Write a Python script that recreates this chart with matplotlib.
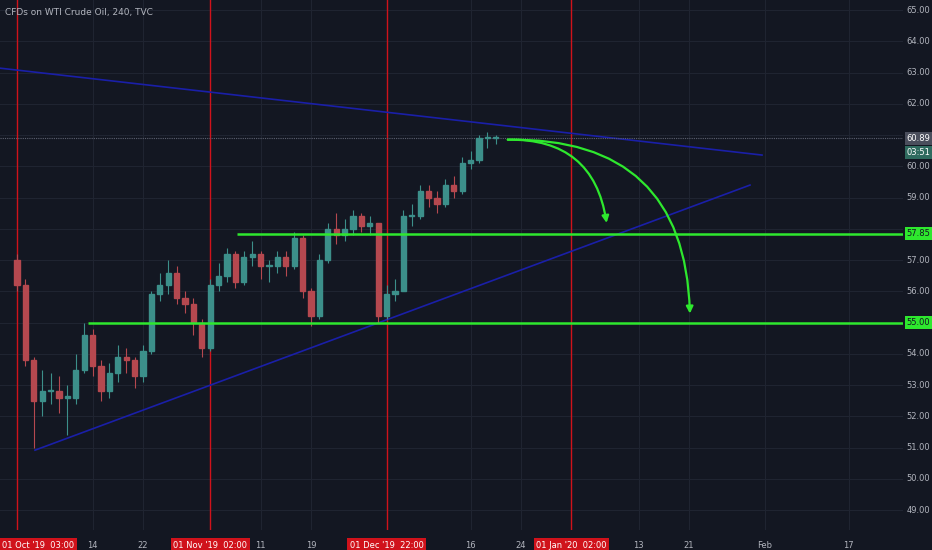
import matplotlib
matplotlib.use("Agg")
import matplotlib.pyplot as plt
from matplotlib.patches import FancyArrowPatch, Rectangle

# Daily candles, 1 Oct 2019 .. 19 Dec 2019 (trading days)
closes = [56.2, 53.8, 52.5, 52.8, 52.8, 52.6, 52.6, 53.5, 54.6, 53.6, 52.8, 53.4, 53.9, 53.8,
          53.3, 54.1, 55.9, 56.2, 56.6, 55.8, 55.6, 55.0, 54.2,
          56.2, 56.5, 57.2, 56.3, 57.1, 57.2, 56.8, 56.8, 57.1, 56.8, 57.7, 56.0, 55.2, 57.0,
          58.0, 57.8, 58.0, 58.4, 58.1, 58.2, 55.2,
          55.9, 56.0, 58.4, 58.4, 59.2, 59.0, 58.8, 59.4, 59.2, 60.1, 60.2, 60.9, 60.9, 60.9]
opens = [57.0] + closes[:-1]
highs = [57.2, 56.4, 53.9, 53.5, 53.4, 53.3, 53.0, 54.0, 55.0, 54.8, 53.8, 53.7, 54.3, 54.2,
         53.9, 54.3, 56.0, 56.6, 57.0, 56.8, 56.0, 55.8, 55.1,
         56.4, 56.9, 57.4, 57.3, 57.3, 57.6, 57.3, 57.0, 57.3, 57.3, 57.9, 57.8, 56.1, 57.2,
         58.2, 58.5, 58.3, 58.6, 58.5, 58.4, 58.2,
         56.2, 56.4, 58.6, 58.8, 59.4, 59.4, 59.2, 59.6, 59.7, 60.3, 60.5, 61.0, 61.1, 61.0]
lows = [56.0, 53.6, 51.0, 52.0, 52.4, 52.1, 51.4, 52.4, 53.4, 53.3, 52.5, 52.6, 53.1, 53.4,
        52.9, 53.1, 54.0, 55.7, 55.9, 55.6, 55.3, 54.6, 53.9,
        54.1, 56.0, 56.3, 56.1, 56.2, 56.8, 56.4, 56.3, 56.6, 56.5, 56.7, 55.8, 54.9, 55.1,
        56.9, 57.5, 57.6, 57.8, 57.9, 57.8, 55.0,
        55.1, 55.7, 56.0, 58.1, 58.3, 58.7, 58.5, 58.7, 59.0, 59.1, 59.9, 60.1, 60.6, 60.7]

tick_idx = [0, 9, 15, 23, 29, 35, 44, 54, 60, 66, 74, 80, 89, 99]
tick_labels = ["01 Oct '19  03:00", "14", "22", "01 Nov '19  02:00", "11", "19",
               "01 Dec '19  22:00", "16", "24", "01 Jan '20  02:00", "13", "21", "Feb", "17"]
red_idx = [0, 23, 44, 66]
price_ticks = [49 + i for i in range(17)]

bg = "#131722"
grid = "#1f2431"
up, down = "#3c8f8a", "#b5484f"
red = "#d0121b"

fig = plt.figure(figsize=(9.32, 5.5), dpi=100, facecolor=bg)
ax = fig.add_axes([0, 0.036, 903 / 932, 0.964])
ax.set_facecolor(bg)
x0 = -17 / 8.4
ax.set_xlim(x0, x0 + 903 / 8.4)
ax.set_ylim(65 - 520 / 31.25, 65 + 10 / 31.25)

for p in price_ticks:
    ax.axhline(p, color=grid, lw=0.8, zorder=0)
for t in tick_idx:
    ax.axvline(t, color=grid, lw=0.8, zorder=0)
for t in red_idx:
    ax.axvline(t, color=red, lw=1.0, zorder=1)

for i, (o, h, l, c) in enumerate(zip(opens, highs, lows, closes)):
    col = up if c >= o else down
    ax.vlines(i, l, h, color=col, lw=0.8, zorder=3)
    ax.add_patch(Rectangle((i - 0.3, min(o, c)), 0.6, max(abs(c - o), 0.04),
                           color=col, zorder=3))

# trend lines
ax.plot([x0 + 0 / 8.4, x0 + 762 / 8.4], [63.14, 60.36], color="#1a1fa8", lw=1.2, zorder=2)
ax.plot([x0 + 35 / 8.4, x0 + 750 / 8.4], [50.92, 59.4], color="#1a1fa8", lw=1.2, zorder=2)
# support levels
ax.hlines(57.85, x0 + 237 / 8.4, x0 + 903 / 8.4, color="#2ee82e", lw=1.8, zorder=4)
ax.hlines(55.0, x0 + 88 / 8.4, x0 + 903 / 8.4, color="#2ee82e", lw=1.8, zorder=4)
ax.axhline(60.89, color="#5d6170", lw=0.8, ls=(0, (1, 1)), zorder=2)

# projection arrows
start = (x0 + 505 / 8.4, 60.85)
for end, rad in [((x0 + 607 / 8.4, 58.1), -0.45), ((x0 + 690 / 8.4, 55.2), -0.5)]:
    ax.add_patch(FancyArrowPatch(start, end, connectionstyle=f"arc3,rad={rad}",
                                 arrowstyle="-|>,head_length=4,head_width=2",
                                 color="#2ee82e", lw=1.6, zorder=5))

ax.set_xticks([])
ax.set_yticks([])
for s in ax.spines.values():
    s.set_visible(False)

ax.text(0.005, 0.985, "CFDs on WTI Crude Oil, 240, TVC", transform=ax.transAxes,
        color="#b2b5be", fontsize=6.5, va="top")

# right price scale
tr = ax.get_yaxis_transform()
for p in price_ticks:
    if p in (58, 61):
        continue
    ax.text(1.004, p, f"{p:.2f}", transform=tr, color="#b2b5be", fontsize=6,
            va="center", ha="left", clip_on=False)
for val, txt, fc, tc in [(60.89, "60.89", "#4a4e5c", "white"), (60.45, "03:51", "#2f6b5f", "white"),
                         (57.85, "57.85", "#2ee82e", "#131722"), (55.0, "55.00", "#2ee82e", "#131722")]:
    ax.text(1.004, val, txt, transform=tr, color=tc, fontsize=6, va="center", ha="left",
            clip_on=False, bbox=dict(boxstyle="square,pad=0.25", fc=fc, ec="none"), zorder=6)

# bottom date scale
trx = ax.get_xaxis_transform()
for t, lab in zip(tick_idx, tick_labels):
    ha = "left" if t == 0 else "center"
    xx = x0 + 2 / 8.4 if t == 0 else t
    if t in red_idx:
        ax.text(xx, -0.028, lab, transform=trx, color="white", fontsize=6, ha=ha, va="center",
                clip_on=False, bbox=dict(boxstyle="square,pad=0.3", fc=red, ec="none"))
    else:
        ax.text(xx, -0.028, lab, transform=trx, color="#b2b5be", fontsize=6, ha=ha,
                va="center", clip_on=False)

fig.savefig("out.png", dpi=100, facecolor=bg)
